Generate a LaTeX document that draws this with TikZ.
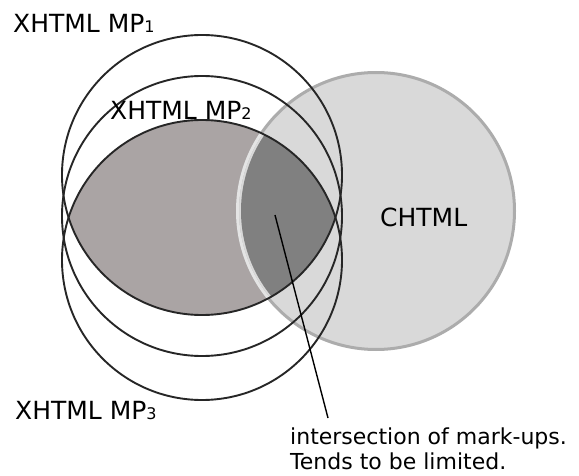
\documentclass[tikz,border=0pt]{standalone}
\usepackage{fontspec}
\setmainfont{DejaVu Sans}
\definecolor{lensgray}{RGB}{170,164,164}
\definecolor{coregray}{RGB}{128,128,128}
\definecolor{chtmlgray}{RGB}{217,217,217}
\definecolor{rimgray}{RGB}{172,172,172}
\newcommand\mpnum[1]{{\fontsize{16}{16}\selectfont #1}}
\begin{document}
\begin{tikzpicture}[x=1pt,y=-1pt,
   every node/.style={inner sep=0pt,font=\fontsize{25}{25}\selectfont},
   set circle/.style={draw=black!85,line width=1.9pt},
   chtml set/.style={fill=chtmlgray,draw=rimgray,line width=3pt},
   note text/.style={align=left,font=\fontsize{22}{25}\selectfont}]
\useasboundingbox (0,0) rectangle (579,476);
\def\rad{140}
\coordinate (c1) at (202,175);
\coordinate (c2) at (202,216);
\coordinate (c3) at (202,260);
\coordinate (ch) at (376,211);
% lens of MP1 and MP3
\begin{scope}
  \clip (c1) circle (\rad);
  \clip (c3) circle (\rad);
  \fill[lensgray] (0,0) rectangle (579,476);
\end{scope}
\path[chtml set] (ch) circle (\rad-1.5);
\begin{scope}
  \clip (c1) circle (\rad);
  \clip (c3) circle (\rad);
  \draw[chtmlgray!70!white,line width=3pt] (ch) circle (\rad-1.5);
  \fill[coregray] (ch) circle (\rad-5);
\end{scope}
% the three XHTML MP sets
\foreach \c in {c1,c2,c3}
  \draw[set circle] (\c) circle (\rad);
\node[anchor=base west] (mp1) at (13,33) {XHTML MP\mpnum{1}};
\node[anchor=base west] (mp2) at (110,120) {XHTML MP\mpnum{2}};
\node[anchor=base west] (mp3) at (15,419) {XHTML MP\mpnum{3}};
\node[anchor=base west] (chtml) at (380,227) {CHTML};
\node[note text,anchor=north west] (note) at (290,428)
  {intersection of mark-ups.\\Tends to be limited.};
\coordinate (tip) at (275,215);
\coordinate (foot) at (328,418);
\draw[line width=1.4pt] (tip) -- (foot);
\end{tikzpicture}
\end{document}
